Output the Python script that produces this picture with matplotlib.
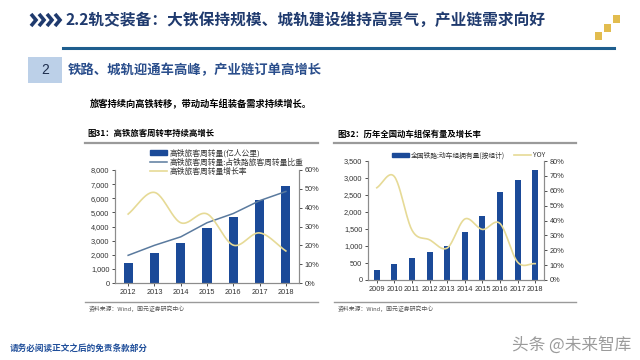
import numpy as np
import matplotlib
matplotlib.use("Agg")
import matplotlib.pyplot as plt
from matplotlib.patches import Rectangle
from matplotlib.lines import Line2D
from matplotlib.ticker import FuncFormatter, MultipleLocator

plt.rcParams['font.family'] = ['Noto Sans CJK SC', 'DejaVu Sans']

# ---------------- data ----------------
years1 = ['2012', '2013', '2014', '2015', '2016', '2017', '2018']
hsr_pkm = [1446, 2141, 2825, 3863, 4641, 5876, 6872]          # 亿人公里
hsr_share = [14.7, 20.0, 24.5, 32.0, 36.9, 43.7, 48.6]         # %
hsr_growth = [36.6, 48.1, 32.0, 36.7, 20.1, 26.6, 17.0]        # %

years2 = ['2009', '2010', '2011', '2012', '2013', '2014', '2015', '2016', '2017', '2018']
emu_sets = [285, 480, 650, 830, 1000, 1420, 1880, 2590, 2940, 3250]
emu_yoy = [62, 69.5, 33.5, 27, 21.5, 41, 34, 38, 12, 11]

title = '2.2轨交装备：大铁保持规模、城轨建设维持高景气，产业链需求向好'
subtitle = '铁路、城轨迎通车高峰，产业链订单高增长'
body = '旅客持续向高铁转移，带动动车组装备需求持续增长。'
ctitle1 = '图31：高铁旅客周转率持续高增长'
ctitle2 = '图32：历年全国动车组保有量及增长率'
leg1 = ['高铁旅客周转量(亿人公里)', '高铁旅客周转量:占铁路旅客周转量比重', '高铁旅客周转量增长率']
leg2 = ['全国铁路:动车组拥有量(按组计)', 'YOY']
source = '资料来源：Wind，国元证券研究中心'
footer = '请务必阅读正文之后的免责条款部分'
watermark = '头条 @未来智库'

BAR = '#1B4A98'
SHARE = '#5A7A9E'
YEL = '#E6DA96'
NAVY = '#1F3A6E'
NUMFONT = ['Liberation Sans', 'DejaVu Sans']


def smooth(xs, ys, n=24):
    """Catmull-Rom style smoothing for display of a line series."""
    xs = np.asarray(xs, float)
    ys = np.asarray(ys, float)
    px = np.concatenate([[2 * xs[0] - xs[1]], xs, [2 * xs[-1] - xs[-2]]])
    py = np.concatenate([[2 * ys[0] - ys[1]], ys, [2 * ys[-1] - ys[-2]]])
    ox, oy = [], []
    t = np.linspace(0, 1, n, endpoint=False)
    for i in range(1, len(px) - 2):
        for arr, out in ((px, ox), (py, oy)):
            p0, p1, p2, p3 = arr[i - 1], arr[i], arr[i + 1], arr[i + 2]
            out.extend(0.5 * ((2 * p1) + (-p0 + p2) * t + (2 * p0 - 5 * p1 + 4 * p2 - p3) * t ** 2
                              + (-p0 + 3 * p1 - 3 * p2 + p3) * t ** 3))
    ox.append(xs[-1]); oy.append(ys[-1])
    return np.array(ox), np.array(oy)


W, H = 640, 360
fig = plt.figure(figsize=(6.4, 3.6), dpi=100)
fig.patch.set_facecolor('white')


def fx(x):
    return x / W


def fy(y):
    return 1 - y / H


# ---------------- header ----------------
# chevron decoration
for cx in (31, 39, 47, 55):
    fig.add_artist(Line2D([fx(cx), fx(cx + 5), fx(cx)], [fy(14), fy(20), fy(26)],
                          color=NAVY, lw=2.6, solid_joinstyle='miter', solid_capstyle='butt'))
fig.text(fx(65), fy(20), title, fontsize=11.3, color=NAVY, va='center', ha='left', fontweight='bold')
fig.add_artist(Line2D([fx(63), fx(614)], [fy(48), fy(48)], color='#1E5E8E', lw=2.2))
for (cx, cy) in [(598, 36), (607, 28), (616, 19)]:
    fig.add_artist(Rectangle((fx(cx - 3.5), fy(cy + 3.5)), 7 / W, 7 / H, color='#E2BC4E', lw=0))

fig.add_artist(Rectangle((fx(28), fy(83)), 34 / W, 26 / H, color='#BCD0E8', lw=0))
fig.text(fx(45), fy(70), '2', fontsize=10, color='#1F2F4F', va='center', ha='center', family=NUMFONT)
fig.text(fx(68), fy(70), subtitle, fontsize=9.6, color='#2A4E8C', va='center', ha='left', fontweight='bold')
fig.text(fx(90), fy(104), body, fontsize=6.7, color='black', va='center', ha='left', fontweight='bold')

# chart titles and separator lines
fig.text(fx(87), fy(133), ctitle1, fontsize=6, color='black', va='center', ha='left', fontweight='bold')
fig.text(fx(337), fy(134), ctitle2, fontsize=6, color='black', va='center', ha='left', fontweight='bold')
for x0, x1 in [(85, 318), (334, 576)]:
    fig.add_artist(Line2D([fx(x0), fx(x1)], [fy(143), fy(143)], color='#9A9A9A', lw=1.6))
    fig.add_artist(Line2D([fx(x0), fx(x1)], [fy(302), fy(302)], color='#9A9A9A', lw=1.0))
fig.text(fx(89), fy(309), source, fontsize=4.2, color='#555555', va='center', ha='left')
fig.text(fx(338), fy(309), source, fontsize=4.2, color='#555555', va='center', ha='left')

fig.text(fx(10), fy(348), footer, fontsize=6.2, color='#1F4E9A', va='center', ha='left', fontweight='bold')
fig.text(fx(512), fy(345), watermark, fontsize=12, color='#8A8A8A', va='center', ha='left', alpha=0.85)


def style(ax, axr):
    for a in (ax, axr):
        a.spines['top'].set_visible(False)
        for s in ('left', 'right', 'bottom'):
            a.spines[s].set_color('#8C8C8C')
            a.spines[s].set_linewidth(0.8)
        a.tick_params(axis='both', labelsize=5.3, colors='#333333', length=2, width=0.6, pad=2)
        for lab in a.get_xticklabels() + a.get_yticklabels():
            lab.set_family(NUMFONT)
    ax.set_facecolor('none')


# ---------------- chart 1 ----------------
ax1 = fig.add_axes([fx(115), fy(283), 184 / W, 113 / H])
x1 = np.arange(len(years1))
ax1.bar(x1, hsr_pkm, width=0.35, color=BAR, zorder=2)
ax1.set_xlim(-0.5, len(years1) - 0.5)
ax1.set_ylim(0, 8000)
ax1.yaxis.set_major_locator(MultipleLocator(1000))
ax1.yaxis.set_major_formatter(FuncFormatter(lambda v, p: f'{int(v):,}'))
ax1.set_xticks(x1)
ax1.set_xticklabels(years1)
ax1.tick_params(axis='x', length=0)
ax1r = ax1.twinx()
ax1r.set_ylim(0, 60)
ax1r.yaxis.set_major_locator(MultipleLocator(10))
ax1r.yaxis.set_major_formatter(FuncFormatter(lambda v, p: f'{int(v)}%'))
ax1r.plot(x1, hsr_share, color=SHARE, lw=1.1, zorder=3)
sx, sy = smooth(x1, hsr_growth)
ax1r.plot(sx, sy, color=YEL, lw=1.2, zorder=3)
style(ax1, ax1r)

h1 = [Rectangle((0, 0), 1, 1, color=BAR), Line2D([], [], color=SHARE, lw=1.1), Line2D([], [], color=YEL, lw=1.2)]
fig.legend(h1, leg1, loc='upper left', bbox_to_anchor=(fx(146), fy(145)), frameon=False,
           fontsize=5.6, handlelength=2.2, handleheight=0.5, labelspacing=0.15, borderpad=0,
           handletextpad=0.3, labelcolor='#333333')

# ---------------- chart 2 ----------------
ax2 = fig.add_axes([fx(368), fy(280), 176 / W, 119 / H])
x2 = np.arange(len(years2))
ax2.bar(x2, emu_sets, width=0.35, color=BAR, zorder=2)
ax2.set_xlim(-0.5, len(years2) - 0.5)
ax2.set_ylim(0, 3500)
ax2.yaxis.set_major_locator(MultipleLocator(500))
ax2.yaxis.set_major_formatter(FuncFormatter(lambda v, p: f'{int(v):,}'))
ax2.set_xticks(x2)
ax2.set_xticklabels(years2)
ax2.tick_params(axis='x', length=0)
ax2r = ax2.twinx()
ax2r.set_ylim(0, 80)
ax2r.yaxis.set_major_locator(MultipleLocator(10))
ax2r.yaxis.set_major_formatter(FuncFormatter(lambda v, p: f'{int(v)}%'))
sx2, sy2 = smooth(x2, emu_yoy)
ax2r.plot(sx2, sy2, color=YEL, lw=1.2, zorder=3)
style(ax2, ax2r)

h2 = [Rectangle((0, 0), 1, 1, color=BAR), Line2D([], [], color=YEL, lw=1.2)]
fig.legend(h2, leg2, loc='upper left', bbox_to_anchor=(fx(389), fy(148)), frameon=False, ncol=2,
           fontsize=4.9, handlelength=2.4, handleheight=0.5, borderpad=0, columnspacing=1.4,
           handletextpad=0.3, labelcolor='#333333')

fig.savefig('out.png', dpi=100)
